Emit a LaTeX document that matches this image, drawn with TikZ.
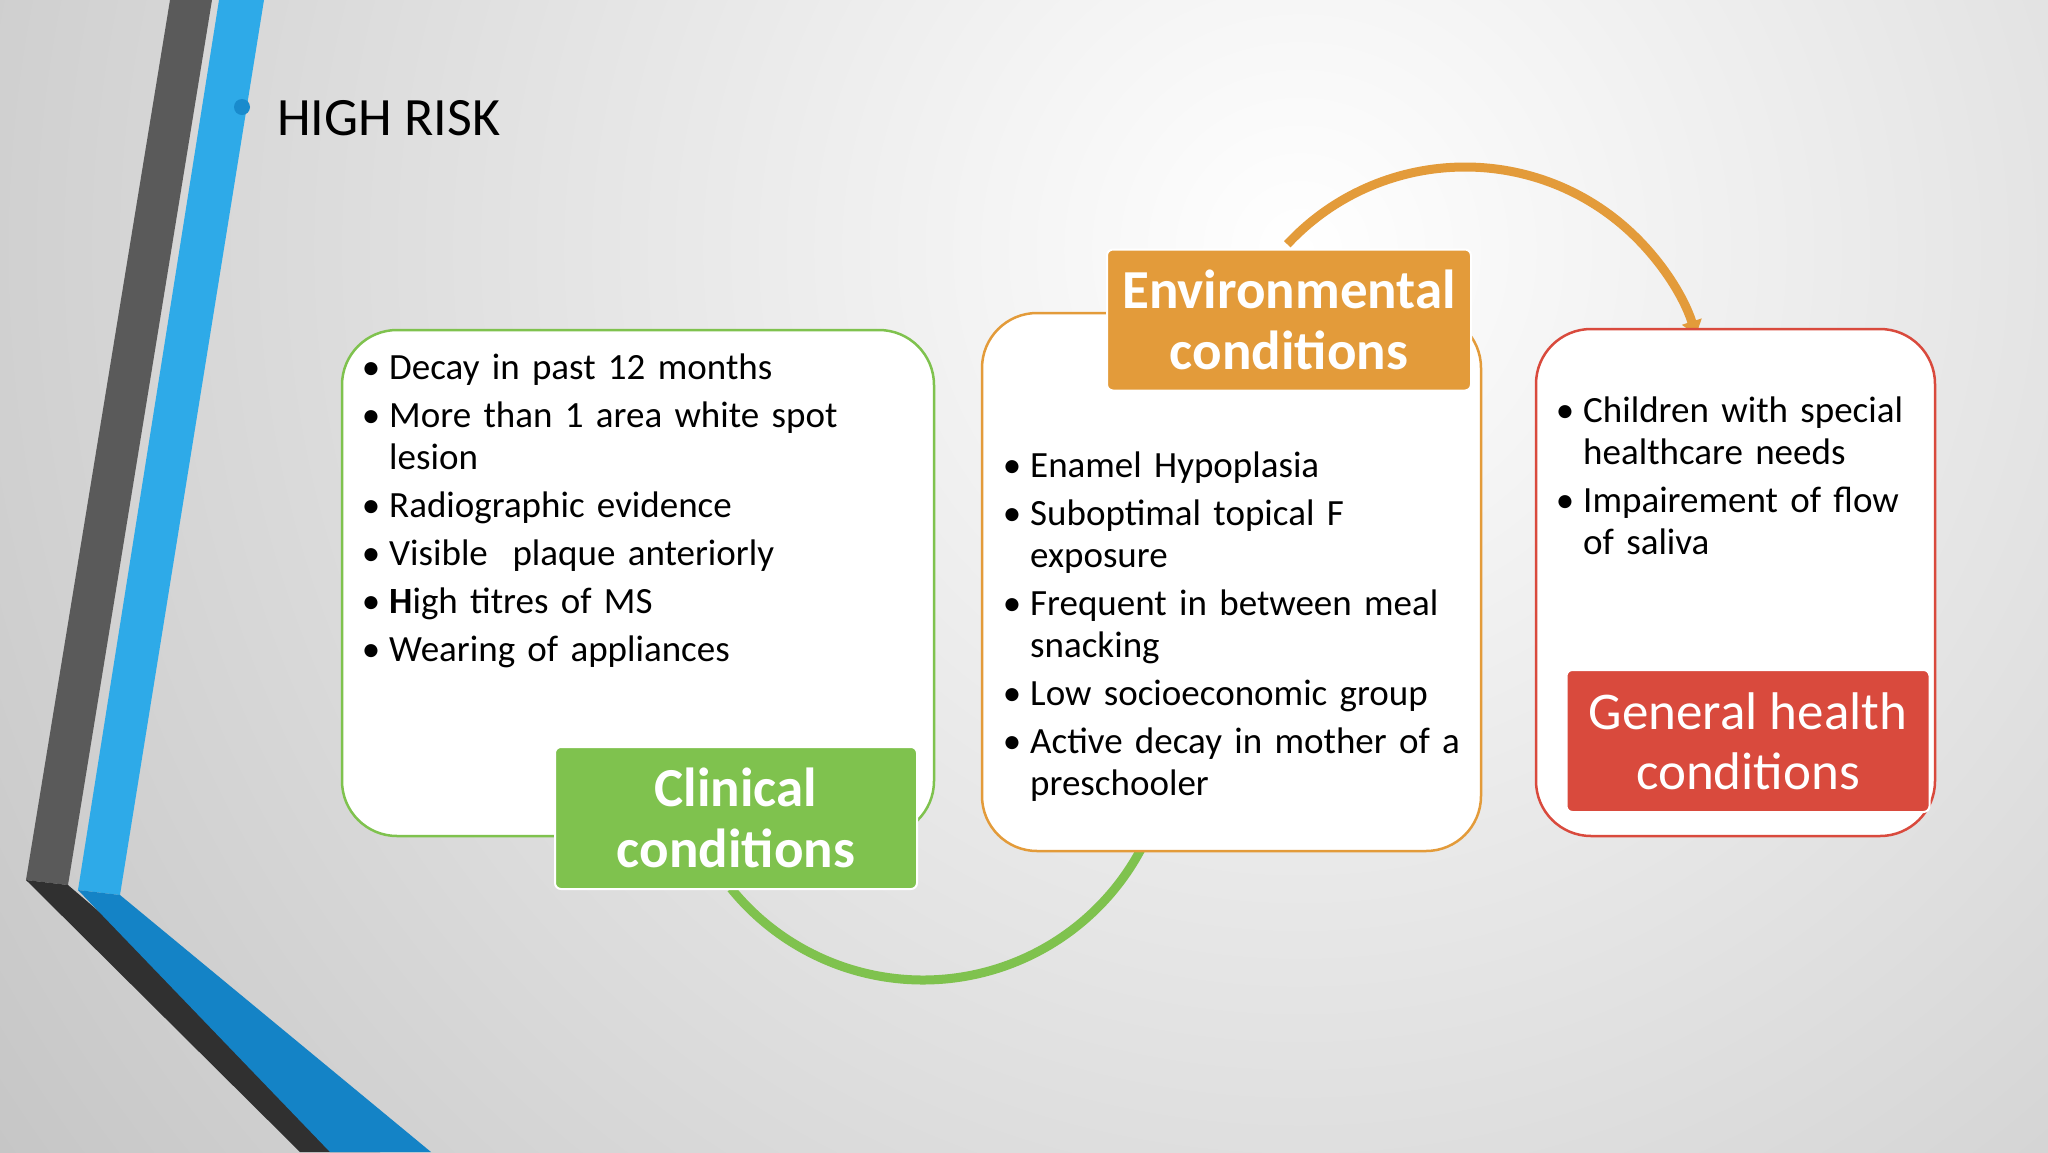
\documentclass[tikz,border=0pt]{standalone}
\usepackage{fontspec}
\setmainfont{Carlito}
\usepackage{enumitem}
\usetikzlibrary{arrows.meta}
\definecolor{cgreen}{HTML}{7FC24E}
\definecolor{corange}{HTML}{E39B3A}
\definecolor{cred}{HTML}{D94A3D}
\definecolor{cblue}{HTML}{2EAAE8}
\definecolor{cdblue}{HTML}{1483C6}
\definecolor{cgrey}{HTML}{5A5A5A}
\definecolor{cdark}{HTML}{303030}
\tikzset{
  x=1pt,y=1pt,
  panel/.style={draw=#1,line width=2.5pt,fill=white,rounded corners=55pt},
  lbl/.style={fill=#1,draw=white,line width=2pt,rounded corners=6pt,text=white,align=center},
  listnode/.style={anchor=north west,inner sep=0pt,text width=#1,font=\fontsize{37}{42}\selectfont},
  arcline/.style={line width=9pt,draw=#1}
}
\newcommand{\mylist}[1]{\raggedright\begin{itemize}[leftmargin=21pt,labelsep=9pt,itemsep=6pt,topsep=0pt,parsep=0pt,label=\textbullet]\raggedright #1\end{itemize}}
\begin{document}
\begin{tikzpicture}
\useasboundingbox (0,0) rectangle (2048,-1152);
\begin{scope}
\clip (0,0) rectangle (2048,-1152);
\fill[black!24] (0,0) rectangle (2048,-1152);
\shade[inner color=white,outer color=black!24] (1300,-250) circle (1700);
% stripes
\fill[cgrey] (170,0) -- (212,0) -- (68,-885) -- (26,-880) -- cycle;
\fill[cdark] (26,-880) -- (68,-885) -- (380,-1152) -- (300,-1152) -- cycle;
\fill[cblue] (219,0) -- (264,0) -- (120,-895) -- (78,-890) -- cycle;
\fill[cdblue] (78,-890) -- (120,-895) -- (431,-1152) -- (330,-1152) -- cycle;
\end{scope}
% title
\fill[cdblue!80!cblue] (242,-107) circle (8);
\node[anchor=west,inner sep=0pt,font=\fontsize{54}{58}\selectfont] (title) at (277,-118) {HIGH RISK};
% arcs
\draw[arcline=cgreen] (923,-733) ++(219:247) arc (219:334:247);
\draw[arcline=corange,-{Triangle[length=14pt,width=20pt]}] (1465,-410) ++(137:243) arc (137:18:243);
% panels
\draw[panel=cgreen] (342,-330) rectangle (934,-836);
\draw[panel=corange] (982,-313) rectangle (1481,-851);
\draw[panel=cred] (1536,-329) rectangle (1935,-836);
% labels
\node[lbl=cgreen,minimum width=362pt,minimum height=142pt,font=\bfseries\fontsize{55}{61}\selectfont] (lg) at (736,-818) {Clinical\\conditions};
\node[lbl=corange,minimum width=364pt,minimum height=141pt,font=\bfseries\fontsize{55}{61}\selectfont] (lo) at (1289,-320) {Environmental\\conditions};
\node[lbl=cred,minimum width=363pt,minimum height=142pt,font=\fontsize{53}{60}\selectfont] (lr) at (1748,-741) {General health\\conditions};
% lists
\node[listnode=490pt] (gl) at (368,-337) {\mylist{
\item Decay in past 12 months
\item More than 1 area white spot lesion
\item Radiographic evidence
\item Visible\ \ plaque anteriorly
\item \textbf{H}igh titres of MS
\item Wearing of appliances}};
\node[listnode=458pt] (ol) at (1009,-435) {\mylist{
\item Enamel Hypoplasia
\item Suboptimal topical F exposure
\item Frequent in between meal snacking
\item Low socioeconomic group
\item Active decay in mother of a preschooler}};
\node[listnode=345pt] (rl) at (1562,-380) {\mylist{
\item Children with special healthcare needs
\item Impairement of flow of saliva}};
\end{tikzpicture}
\end{document}
